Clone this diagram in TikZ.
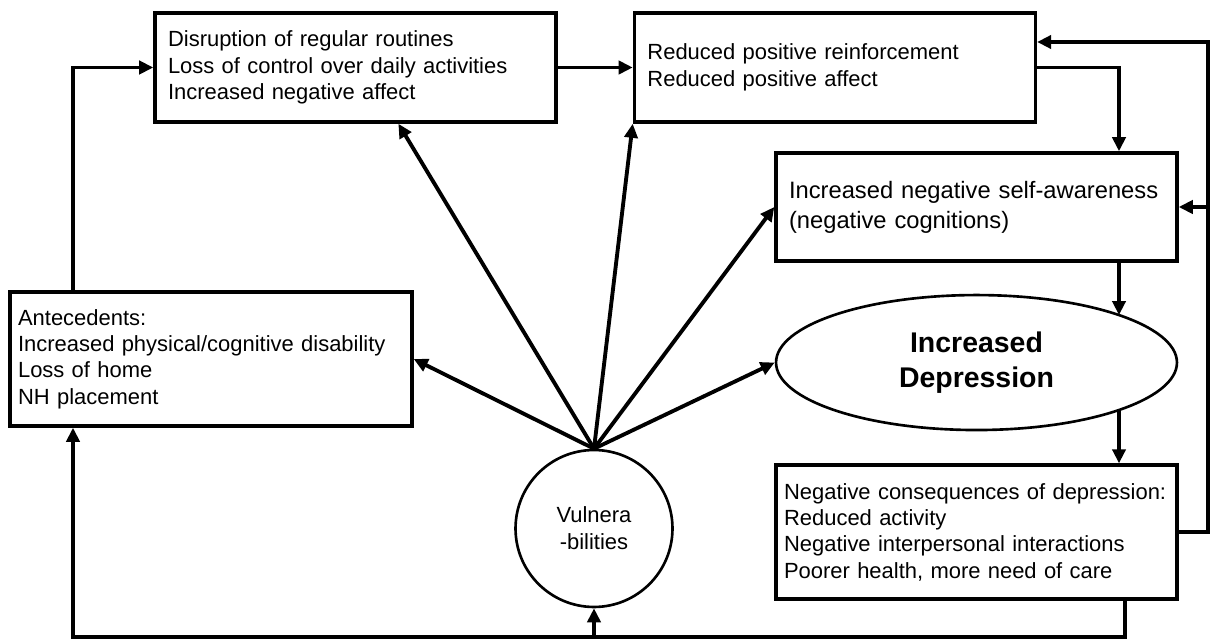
\documentclass[tikz,border=0pt]{standalone}
\usepackage{fontspec}
\setmainfont{Liberation Sans}
\usetikzlibrary{shapes.geometric, arrows.meta, positioning, calc}

\begin{document}
\begin{tikzpicture}[
    x=0.02cm, y=-0.02cm,
    node distance=0.62cm,
    block/.style={rectangle, draw, line width=2pt, minimum width=8.02cm,
                  text width=7.5cm, inner xsep=0.26cm, align=left,
                  font=\fontsize{12.5}{15}\selectfont},
    oval/.style={ellipse, draw, line width=1.5pt, inner sep=0pt, align=center},
    arrow/.style={-{Triangle[length=8pt, width=7.5pt]}, line width=2.2pt}
]
\useasboundingbox (0,0) rectangle (1210,641);

% Top row
\node[block, minimum height=2.18cm] (disrupt) at (355.5,67.5) {Disruption of regular routines\\Loss of control over daily activities\\Increased negative affect};
\node[block, minimum height=2.18cm, right=1.5cm of disrupt] (reinf) {Reduced positive reinforcement\\Reduced positive affect};

% Right column
\node[block, minimum height=2.16cm, font=\fontsize{13.5}{17}\selectfont] (selfaw) at (976.5,207) {Increased negative self-awareness\\(negative cognitions)};
\node[oval, minimum width=8.02cm, minimum height=2.7cm, font=\bfseries\fontsize{16.2}{20}\selectfont, below=0.62cm of selfaw] (depr) {Increased\\Depression};
\node[block, minimum height=2.68cm, inner xsep=0.16cm, text width=7.7cm, below=0.64cm of depr] (conseq) {Negative consequences of depression:\\Reduced activity\\Negative interpersonal interactions\\Poorer health, more need of care};

% Left side
\node[block, minimum height=2.68cm, inner xsep=0.16cm, text width=7.72cm] (ante) at (211,359) {Antecedents:\\Increased physical/cognitive disability\\Loss of home\\NH placement};
\node[oval, minimum width=3.14cm, minimum height=3.14cm, font=\fontsize{12.5}{15.4}\selectfont] (vul) at (594,528.5) {Vulnera\\-bilities};

% Loop corners
\coordinate (col) at (1119,67.5);
\coordinate (rloop) at (1208,42);
\coordinate (bot) at (1125,637);
\coordinate (lcol) at (73,637);

% Main chain
\draw[arrow] (disrupt.east) -- (reinf.west);
\draw[arrow] (reinf.east) -- (col) -- (col |- selfaw.north);
\draw[arrow] (col |- selfaw.south) -- (col |- depr.18);
\draw[arrow] (col |- depr.-18) -- (col |- conseq.north);

% Feedback
\draw[arrow] (conseq.east) -| (rloop) -- (reinf.east |- rloop);
\draw[arrow] (rloop |- selfaw.east) -- (selfaw.east);
\draw[arrow] (bot |- conseq.south) -- (bot) -- (lcol) -- (lcol |- ante.south);
\draw[arrow] (vul.south |- bot) -- (vul.south);
\draw[arrow] (lcol |- ante.north) |- (disrupt.west);

% Vulnerabilities
\draw[arrow] (vul.north) -- (ante.east);
\draw[arrow] (vul.north) -- ($(disrupt.south west)!0.606!(disrupt.south east)$);
\draw[arrow] (vul.north) -- (reinf.south west);
\draw[arrow] (vul.north) -- (selfaw.west);
\draw[arrow] (vul.north) -- (depr.west);

\end{tikzpicture}
\end{document}
